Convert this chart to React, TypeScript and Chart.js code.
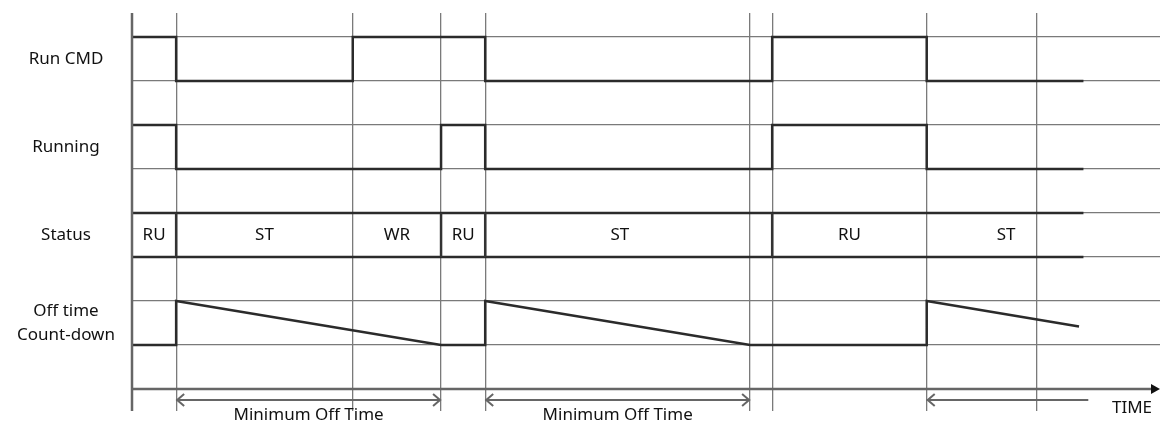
import React, { useEffect, useRef } from "react";
import { Chart, registerables } from "chart.js";

Chart.register(...registerables);

// ---- data ----
const rowLabels = [["Run CMD"], ["Running"], ["Status"], ["Off time", "Count-down"]];
const rowLabelLevels = [7.5, 5.5, 3.5, 1.5];

const gridTimes = [1, 5, 7, 8, 14, 14.5, 18, 20.5];
const gridLevels = [1, 2, 3, 4, 5, 6, 7, 8];

const runCmdT = [0, 1, 5, 8, 14.5, 18, 21.55];
const runCmdV = [8, 7, 8, 7, 8, 7, 7];

const runningT = [0, 1, 7, 8, 14.5, 18, 21.55];
const runningV = [6, 5, 6, 5, 6, 5, 5];

const countT = [0, 1, 1, 7, 8, 8, 14, 18, 18, 21.45];
const countV = [1, 1, 2, 1, 1, 2, 1, 1, 2, 1.42];

const statusStart = 0;
const statusEnd = 21.55;
const statusTop = 4;
const statusBottom = 3;
const statusEdges = [1, 7, 8, 14.5];
const statusNames = ["RU", "ST", "WR", "RU", "ST", "RU", "ST"];
const statusNameAt = [0.5, 3, 6, 7.5, 11.05, 16.25, 19.8];

const spanStarts = [1, 8, 18];
const spanEnds = [7, 14, 21.66];
const spanHeads = ["both", "both", "left"];
const spanLabels = ["Minimum Off Time", "Minimum Off Time", ""];
const arrowLevel = -0.25;
const spanLabelLevel = -0.59;

const timeLabel = "TIME";
const timeLabelAt = 22.65;
const timeLabelLevel = -0.43;

const xMax = 23.284;
const yMin = -0.5;
const yMax = 8.545;

const FONT = '"Noto Sans", sans-serif';

const toPts = (t: number[], v: number[]) => t.map((tt, i) => ({ x: tt, y: v[i] }));

const timingPlugin = {
  id: "timing",
  afterDatasetsDraw(chart: any) {
    const { ctx, chartArea, scales } = chart;
    const x = scales.x;
    const y = scales.y;
    ctx.save();

    // left axis
    ctx.strokeStyle = "#666";
    ctx.lineWidth = 2.5;
    ctx.beginPath();
    ctx.moveTo(x.getPixelForValue(0), chartArea.top);
    ctx.lineTo(x.getPixelForValue(0), chartArea.bottom);
    ctx.stroke();

    // bottom time axis with arrow
    const y0 = y.getPixelForValue(0);
    const tip = x.getPixelForValue(xMax);
    ctx.beginPath();
    ctx.moveTo(x.getPixelForValue(0), y0);
    ctx.lineTo(tip - 8, y0);
    ctx.stroke();
    ctx.fillStyle = "#111";
    ctx.beginPath();
    ctx.moveTo(tip, y0);
    ctx.lineTo(tip - 9, y0 - 5);
    ctx.lineTo(tip - 9, y0 + 5);
    ctx.closePath();
    ctx.fill();

    // status separators
    ctx.strokeStyle = "#333";
    ctx.lineWidth = 2.5;
    statusEdges.forEach((t) => {
      const px = x.getPixelForValue(t);
      ctx.beginPath();
      ctx.moveTo(px, y.getPixelForValue(statusTop));
      ctx.lineTo(px, y.getPixelForValue(statusBottom));
      ctx.stroke();
    });

    // status names
    ctx.fillStyle = "#111";
    ctx.font = `17px ${FONT}`;
    ctx.textAlign = "center";
    ctx.textBaseline = "middle";
    statusNames.forEach((n, i) => {
      ctx.fillText(n, x.getPixelForValue(statusNameAt[i]), y.getPixelForValue((statusTop + statusBottom) / 2));
    });

    // row labels
    const labelX = chartArea.left - 66;
    rowLabels.forEach((lines, i) => {
      const cy = y.getPixelForValue(rowLabelLevels[i]);
      const lh = 24;
      lines.forEach((ln, j) => {
        ctx.fillText(ln, labelX, cy + (j - (lines.length - 1) / 2) * lh);
      });
    });

    // spans
    ctx.strokeStyle = "#666";
    ctx.lineWidth = 2;
    const ay = y.getPixelForValue(arrowLevel);
    spanStarts.forEach((s, i) => {
      const a = x.getPixelForValue(s);
      const b = x.getPixelForValue(spanEnds[i]);
      ctx.beginPath();
      ctx.moveTo(a, ay);
      ctx.lineTo(b, ay);
      ctx.stroke();
      ctx.beginPath();
      ctx.moveTo(a + 8, ay - 6);
      ctx.lineTo(a + 1, ay);
      ctx.lineTo(a + 8, ay + 6);
      ctx.stroke();
      if (spanHeads[i] === "both") {
        ctx.beginPath();
        ctx.moveTo(b - 8, ay - 6);
        ctx.lineTo(b - 1, ay);
        ctx.lineTo(b - 8, ay + 6);
        ctx.stroke();
      }
      if (spanLabels[i]) {
        ctx.fillStyle = "#111";
        ctx.fillText(spanLabels[i], (a + b) / 2, y.getPixelForValue(spanLabelLevel));
      }
    });

    ctx.fillStyle = "#111";
    ctx.fillText(timeLabel, x.getPixelForValue(timeLabelAt), y.getPixelForValue(timeLabelLevel));

    ctx.restore();
  },
};

export default function App() {
  const ref = useRef<HTMLCanvasElement | null>(null);
  useEffect(() => {
    if (!ref.current) return;
    const lineStyle = {
      borderColor: "#2b2b2b",
      borderWidth: 2.5,
      pointRadius: 0,
      fill: false,
      tension: 0,
    };
    const chart = new Chart(ref.current, {
      type: "line",
      data: {
        datasets: [
          { ...lineStyle, label: "Run CMD", data: toPts(runCmdT, runCmdV), stepped: "before" },
          { ...lineStyle, label: "Running", data: toPts(runningT, runningV), stepped: "before" },
          {
            ...lineStyle,
            label: "Status top",
            data: toPts([statusStart, statusEnd], [statusTop, statusTop]),
          },
          {
            ...lineStyle,
            label: "Status bottom",
            data: toPts([statusStart, statusEnd], [statusBottom, statusBottom]),
          },
          { ...lineStyle, label: "Count-down", data: toPts(countT, countV) },
        ] as any,
      },
      options: {
        animation: false,
        responsive: false,
        events: [],
        layout: { padding: { left: 132, right: 0, top: 13, bottom: 13 } },
        plugins: { legend: { display: false }, tooltip: { enabled: false } },
        scales: {
          x: {
            type: "linear",
            min: 0,
            max: xMax,
            ticks: { display: false },
            border: { display: false },
            grid: { color: "#7a7a7a", lineWidth: 1.3, drawTicks: false },
            afterBuildTicks: (s: any) => {
              s.ticks = gridTimes.map((v) => ({ value: v }));
            },
          },
          y: {
            type: "linear",
            min: yMin,
            max: yMax,
            ticks: { display: false },
            border: { display: false },
            grid: { color: "#7a7a7a", lineWidth: 1.3, drawTicks: false },
            afterBuildTicks: (s: any) => {
              s.ticks = gridLevels.map((v) => ({ value: v }));
            },
          },
        },
      } as any,
      plugins: [timingPlugin],
    });
    return () => chart.destroy();
  }, []);
  return (
    <div style={{ position: "absolute", left: 0, top: 0, width: 1160, height: 424, background: "#fff" }}>
      <canvas ref={ref} width={1160} height={424} />
    </div>
  );
}
